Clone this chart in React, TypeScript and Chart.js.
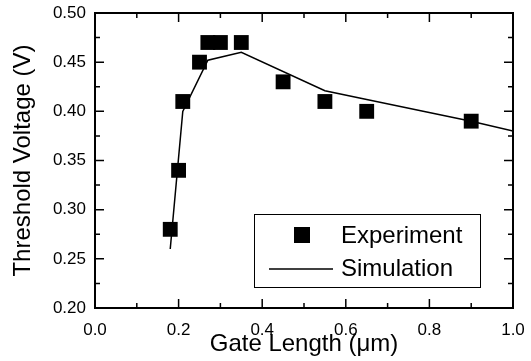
import React, { useEffect, useRef } from "react";
import { Chart, registerables } from "chart.js";

Chart.register(...registerables);

// ---- data ----
const expX = [0.18, 0.2, 0.21, 0.25, 0.27, 0.3, 0.35, 0.45, 0.55, 0.65, 0.9];
const expY = [0.28, 0.34, 0.41, 0.45, 0.47, 0.47, 0.47, 0.43, 0.41, 0.4, 0.39];
const simX = [0.18, 0.21, 0.27, 0.35, 0.55, 0.65, 0.9, 1.0];
const simY = [0.26, 0.4, 0.452, 0.46, 0.421, 0.412, 0.39, 0.38];
const xTickValues = [0, 0.2, 0.4, 0.6, 0.8, 1.0];
const yTickValues = [0.2, 0.25, 0.3, 0.35, 0.4, 0.45, 0.5];
const seriesNames = ["Experiment", "Simulation"];
const xTitle = "Gate Length (\u03bcm)";
const yTitle = "Threshold Voltage (V)";

const FONT = "'Liberation Sans', Arial, Helvetica, sans-serif";

const framePlugin = {
  id: "frameTicks",
  afterDatasetsDraw(chart: any) {
    const { ctx, chartArea: a, scales } = chart;
    const xs = scales.x;
    const ys = scales.y;
    ctx.save();
    ctx.strokeStyle = "#000";
    ctx.lineWidth = 2;
    ctx.strokeRect(a.left, a.top, a.right - a.left, a.bottom - a.top);
    ctx.lineWidth = 1.5;
    const major = 9;
    const minor = 5;
    const xLine = (v: number, len: number) => {
      const p = xs.getPixelForValue(v);
      ctx.beginPath();
      ctx.moveTo(p, a.bottom);
      ctx.lineTo(p, a.bottom - len);
      ctx.moveTo(p, a.top);
      ctx.lineTo(p, a.top + len);
      ctx.stroke();
    };
    const yLine = (v: number, len: number) => {
      const p = ys.getPixelForValue(v);
      ctx.beginPath();
      ctx.moveTo(a.left, p);
      ctx.lineTo(a.left + len, p);
      ctx.moveTo(a.right, p);
      ctx.lineTo(a.right - len, p);
      ctx.stroke();
    };
    xTickValues.forEach((v, i) => {
      xLine(v, major);
      if (i < xTickValues.length - 1) xLine((v + xTickValues[i + 1]) / 2, minor);
    });
    yTickValues.forEach((v, i) => {
      yLine(v, major);
      if (i < yTickValues.length - 1) yLine((v + yTickValues[i + 1]) / 2, minor);
    });
    ctx.restore();
  },
};

const legendPlugin = {
  id: "insideLegend",
  afterDraw(chart: any) {
    const { ctx, chartArea: a } = chart;
    const bx = a.right - 259;
    const by = a.top + 201;
    const bw = 226;
    const bh = 73;
    ctx.save();
    ctx.fillStyle = "#fff";
    ctx.fillRect(bx, by, bw, bh);
    ctx.strokeStyle = "#000";
    ctx.lineWidth = 1;
    ctx.strokeRect(bx + 0.5, by + 0.5, bw, bh);
    // experiment marker
    ctx.fillStyle = "#000";
    ctx.fillRect(bx + 40, by + 13, 16, 16);
    // simulation line
    ctx.lineWidth = 1.5;
    ctx.beginPath();
    ctx.moveTo(bx + 15, by + 55);
    ctx.lineTo(bx + 79, by + 55);
    ctx.stroke();
    ctx.font = `24px ${FONT}`;
    ctx.textBaseline = "alphabetic";
    ctx.textAlign = "left";
    ctx.fillText(seriesNames[0], bx + 87, by + 29);
    ctx.fillText(seriesNames[1], bx + 87, by + 62);
    ctx.restore();
  },
};

export default function App() {
  const ref = useRef<HTMLCanvasElement | null>(null);
  useEffect(() => {
    if (!ref.current) return;
    const chart = new Chart(ref.current, {
      type: "scatter",
      data: {
        datasets: [
          {
            label: seriesNames[1],
            data: simX.map((x, i) => ({ x, y: simY[i] })),
            showLine: true,
            borderColor: "#000",
            borderWidth: 1.5,
            pointRadius: 0,
            tension: 0,
          },
          {
            label: seriesNames[0],
            data: expX.map((x, i) => ({ x, y: expY[i] })),
            pointStyle: "rect",
            pointRadius: 10.5,
            backgroundColor: "#000",
            borderColor: "#000",
            borderWidth: 0,
            showLine: false,
          },
        ],
      },
      options: {
        animation: false,
        responsive: true,
        maintainAspectRatio: false,
        layout: { padding: { left: 0, right: 18, top: 13, bottom: 0 } },
        plugins: {
          legend: { display: false },
          tooltip: { enabled: false },
        },
        scales: {
          x: {
            type: "linear",
            min: 0,
            max: 1,
            afterFit: (s: any) => {
              s.height = 53;
              s.paddingLeft = 0;
              s.paddingRight = 0;
            },
            afterBuildTicks: (s: any) => {
              s.ticks = xTickValues.map((v) => ({ value: v }));
            },
            grid: { display: false, drawTicks: false },
            border: { display: false },
            ticks: {
              padding: 12,
              color: "#000",
              font: { family: FONT, size: 17 },
              callback: (v: any) => Number(v).toFixed(1),
              maxRotation: 0,
            },
            title: {
              display: true,
              text: xTitle,
              color: "#000",
              font: { family: FONT, size: 24 },
              padding: { top: 0, bottom: 2 },
            },
          },
          y: {
            type: "linear",
            min: 0.2,
            max: 0.5,
            afterFit: (s: any) => {
              s.width = 95;
              s.paddingTop = 0;
              s.paddingBottom = 0;
            },
            afterBuildTicks: (s: any) => {
              s.ticks = yTickValues.map((v) => ({ value: v }));
            },
            grid: { display: false, drawTicks: false },
            border: { display: false },
            ticks: {
              padding: 9,
              color: "#000",
              font: { family: FONT, size: 17 },
              callback: (v: any) => Number(v).toFixed(2),
            },
            title: {
              display: true,
              text: yTitle,
              color: "#000",
              font: { family: FONT, size: 24 },
              padding: { top: 9, bottom: 0 },
            },
          },
        },
      },
      plugins: [framePlugin, legendPlugin],
    });
    return () => chart.destroy();
  }, []);
  return (
    <div style={{ position: "fixed", left: 0, top: 0, width: 531, height: 361, background: "#fff" }}>
      <canvas ref={ref} />
    </div>
  );
}
